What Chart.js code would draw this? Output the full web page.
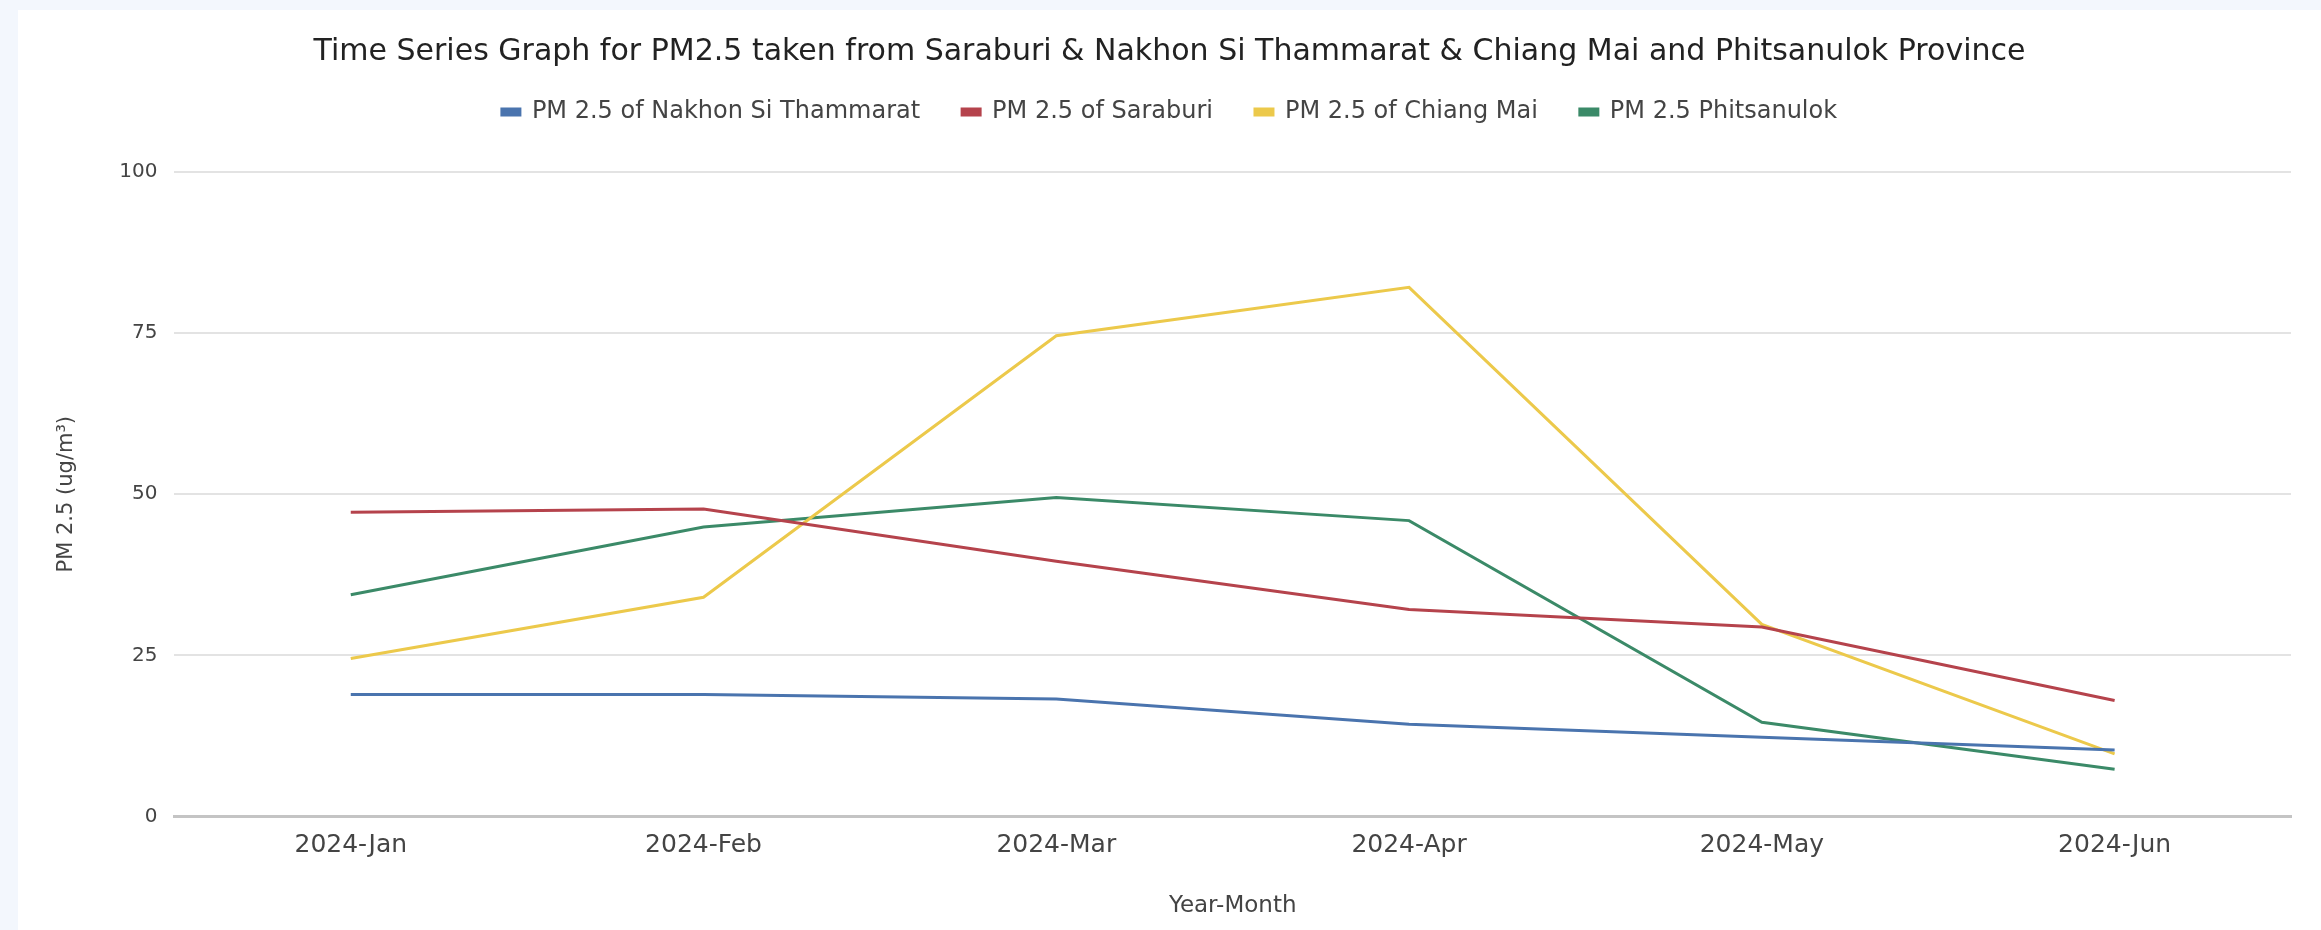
<!DOCTYPE html>
<html>
<head>
<meta charset="utf-8">
<script src="https://cdn.jsdelivr.net/npm/chart.js@4.4.1/dist/chart.umd.min.js"></script>
<style>
  html, body { margin: 0; padding: 0; background: #f3f7fd; }
  #wrap { position: absolute; left: 18px; top: 10px; width: 2303px; height: 920px; background: #ffffff; }
</style>
</head>
<body>
<div id="wrap"><canvas id="myChart"></canvas></div>
<script>
// categories (x axis)
const months = ["2024-Jan", "2024-Feb", "2024-Mar", "2024-Apr", "2024-May", "2024-Jun"];

// PM2.5 values
const nakhonSiThammarat = [18.9, 18.9, 18.2, 14.3, 12.3, 10.3];
const saraburi = [47.2, 47.7, 39.6, 32.1, 29.4, 18.0];
const chiangMai = [24.5, 34.0, 74.6, 82.1, 29.8, 9.7];
const phitsanulok = [34.4, 44.9, 49.5, 45.9, 14.6, 7.3];

const yTicks = [0, 25, 50, 75, 100];

const seriesNames = ["PM 2.5 of Nakhon Si Thammarat", "PM 2.5 of Saraburi", "PM 2.5 of Chiang Mai", "PM 2.5 Phitsanulok"];
const seriesColors = ["#4a74ae", "#b5434c", "#ecc94b", "#3b8a68"];
const seriesData = [nakhonSiThammarat, saraburi, chiangMai, phitsanulok];

const fontFamily = "'DejaVu Sans', Verdana, sans-serif";

// extra room between legend and plot
const legendSpacer = {
    id: 'legendSpacer',
    beforeInit(chart) {
        const origFit = chart.legend.fit;
        chart.legend.fit = function () {
            origFit.bind(chart.legend)();
            this.height += 38;
        };
    }
};

new Chart("myChart", {
    type: "line",
    data: {
        labels: months,
        datasets: seriesData.map((d, i) => ({
            label: seriesNames[i],
            data: d,
            borderColor: seriesColors[i],
            backgroundColor: seriesColors[i],
            borderWidth: 3,
            pointRadius: 0,
            tension: 0,
            fill: false
        }))
    },
    plugins: [legendSpacer],
    options: {
        responsive: true,
        maintainAspectRatio: false,
        animation: false,
        layout: { padding: { top: 24, right: 30, left: 30, bottom: 10 } },
        plugins: {
            title: {
                display: true,
                text: "Time Series Graph for PM2.5 taken from Saraburi & Nakhon Si Thammarat & Chiang Mai and Phitsanulok Province",
                color: "#222",
                font: { family: fontFamily, size: 30, weight: "normal" },
                padding: { top: 0, bottom: -12 }
            },
            legend: {
                position: "top",
                labels: {
                    color: "#444",
                    font: { family: fontFamily, size: 24 },
                    boxWidth: 18,
                    boxHeight: 6,
                    padding: 42
                }
            },
            tooltip: { enabled: false }
        },
        scales: {
            x: {
                offset: true,
                grid: { display: false },
                border: { display: true, color: "#c4c4c4", width: 3 },
                ticks: { color: "#444", font: { family: fontFamily, size: 25 }, padding: 6 },
                title: {
                    display: true,
                    text: "Year-Month",
                    color: "#444",
                    font: { family: fontFamily, size: 23 },
                    padding: { top: 26, bottom: 0 }
                }
            },
            y: {
                min: 0,
                max: 100,
                afterBuildTicks: (axis) => { axis.ticks = yTicks.map(v => ({ value: v })); },
                grid: { color: "#e3e3e3", lineWidth: 2, drawTicks: false },
                border: { display: false },
                ticks: { color: "#444", font: { family: fontFamily, size: 20 }, padding: 17 },
                title: {
                    display: true,
                    text: "PM 2.5 (ug/m³)",
                    color: "#444",
                    font: { family: fontFamily, size: 21 },
                    padding: { top: 6, bottom: 23 }
                }
            }
        }
    }
});
</script>
</body>
</html>
